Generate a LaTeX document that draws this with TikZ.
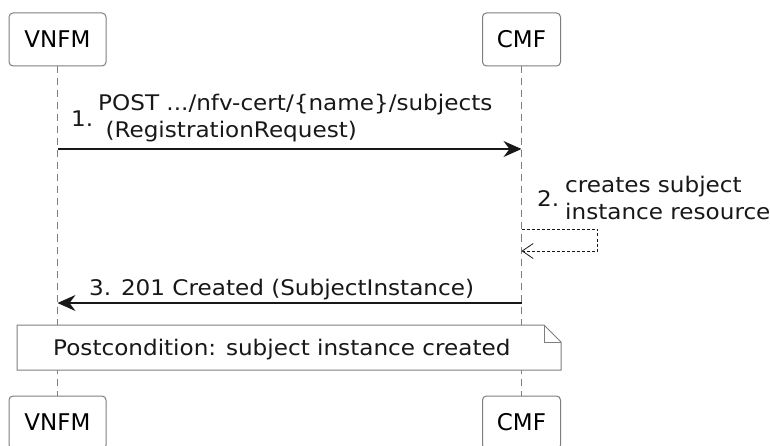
\documentclass[tikz,border=0pt]{standalone}
\usepackage{fontspec}
\setmainfont{DejaVu Sans}
\newfontfamily\msgfont{DejaVu Sans}[FakeStretch=1.075]
\usetikzlibrary{arrows.meta, positioning, shapes.misc}

\definecolor{boxgray}{HTML}{7E7E7E}
\definecolor{linedark}{HTML}{181818}

\begin{document}
\begin{tikzpicture}[x=1pt, y=-1pt,
  actor/.style={draw=boxgray, line width=1pt, rounded corners=4pt, fill=white,
    minimum height=53pt, inner sep=0pt, font=\fontsize{23}{27}\selectfont},
  lifeline/.style={draw=boxgray, line width=0.8pt, dash pattern=on 7pt off 5pt},
  msg/.style={draw=linedark, line width=1.3pt, -{Stealth[length=18pt, width=16pt, inset=6pt]}},
  reply/.style={draw=linedark, line width=0.7pt, dash pattern=on 3pt off 2pt,
    -{Straight Barb[length=11pt, width=15pt, line width=0.8pt]}},
  lbl/.style={anchor=base west, inner sep=0pt, align=left, text=linedark,
    font=\msgfont\fontsize{21.5}{27}\selectfont}]
\useasboundingbox (0,0) rectangle (770,446);

\node[actor, minimum width=97pt] (vnfmTop) at (57.5,39.5) {VNFM};
\node[actor, minimum width=78pt] (cmfTop) at (521.5,39.5) {CMF};
\node[actor, minimum width=97pt] (vnfmBot) at (57.5,422.5) {VNFM};
\node[actor, minimum width=78pt] (cmfBot) at (521.5,422.5) {CMF};

\draw[lifeline] (vnfmTop) -- (vnfmBot);
\draw[lifeline] (cmfTop) -- (cmfBot);

% 1. registration request
\coordinate (m1a) at (vnfmTop |- 0,149);
\coordinate (m1b) at (cmfTop |- 0,149);
\draw[msg] (m1a) -- (m1b);
\node[lbl] (n1) at (71,127) {1.};
\node[lbl] (t1) at (98,138) {POST .../nfv-cert/\{name\}/subjects\\\ (RegistrationRequest)};

% 2. self message
\coordinate (m2a) at (cmfTop |- 0,229);
\coordinate (m2b) at (597,229);
\coordinate (m2c) at (597,251);
\coordinate (m2d) at (cmfTop |- 0,251);
\draw[reply] (m2a) -- (m2b) -- (m2c) -- (m2d);
\node[lbl] (n2) at (537,207) {2.};
\node[lbl] (t2) at (565,219) {creates subject\\instance resource};

% 3. response
\coordinate (m3a) at (cmfTop |- 0,303);
\coordinate (m3b) at (vnfmTop |- 0,303);
\draw[msg] (m3a) -- (m3b);
\node[lbl] (t3) at (89,295) {3. 201 Created (SubjectInstance)};

% note
\draw[draw=boxgray, fill=white, line width=1pt]
  (17,325) -- (544,325) -- (561,342) -- (561,370) -- (17,370) -- cycle;
\draw[draw=boxgray, line width=1pt] (544,325) -- (544,342) -- (561,342);
\node[lbl] (post) at (53,355) {Postcondition: subject instance created};
\end{tikzpicture}
\end{document}
